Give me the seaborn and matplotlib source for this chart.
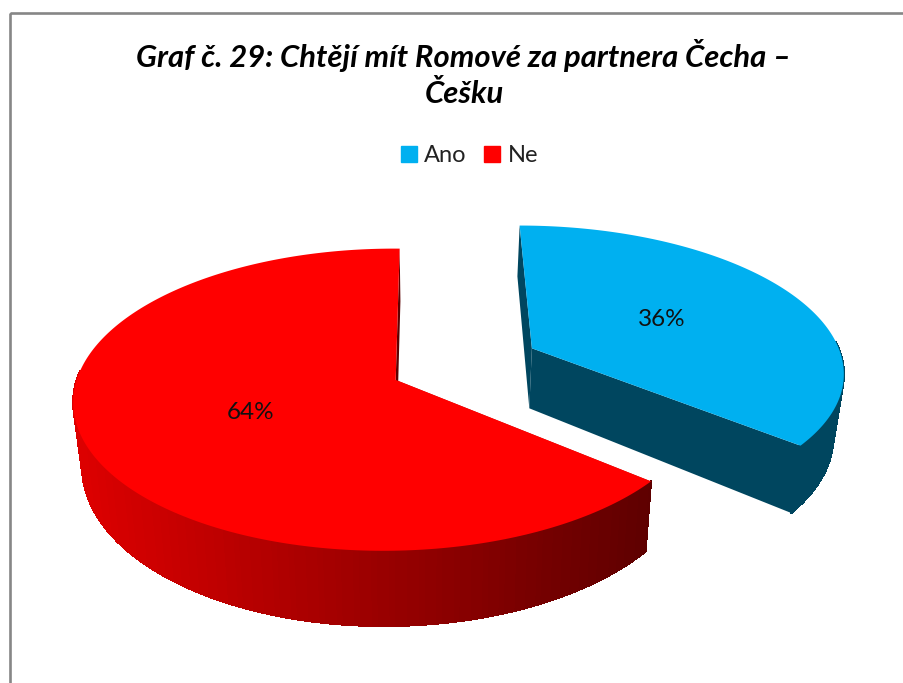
import numpy as np
import seaborn as sns
import matplotlib.pyplot as plt
from matplotlib.patches import Patch, Rectangle
from matplotlib.collections import PolyCollection

title = "Graf č. 29: Chtějí mít Romové za partnera Čecha –\nČešku"
categories = ["Ano", "Ne"]
shares = [36, 64]
labels = ["36%", "64%"]

sns.set_theme(style="white")
plt.rcParams["font.family"] = ["Lato", "DejaVu Sans"]

top_colors = ["#00B0F0", "#FF0000"]
side_blue = "#00465F"
rim_red = sns.blend_palette(["#DC0000", "#5C0000"], 64)

# projection of the tilted disc, one set per slice (exploded slices sit apart)
CX, CY, QY = 430, 375.5, 147
slice_view = [
    dict(r=315, k=0.14, m=0.0, ou=0.332, ov=0.19),
    dict(r=310, k=0.13, m=0.02, ou=-0.11, ov=-0.03),
]


def project(u, v, view):
    u = u + view["ou"]
    v = v + view["ov"]
    s = 1 / (1 + view["k"] * v + view["m"] * u)
    return CX + view["r"] * u * s, CY - QY * v * s


def drop(x, y):
    return CX + (x - CX) * 0.975, y + 60 + 0.075 * (y - 348)


fig, ax = plt.subplots(figsize=(9.04, 6.83), dpi=100)
ax.set_position([0, 0, 1, 1])
ax.set_xlim(0, 904)
ax.set_ylim(683, 0)
ax.axis("off")

ax.add_patch(Rectangle((10.5, 13), 1000, 1000, fill=False, ec="#868686", lw=1.9))

fractions = np.cumsum([0] + shares) / sum(shares)
for i, share in enumerate(shares):
    view = slice_view[i]
    a0, a1 = 2 * np.pi * fractions[i], 2 * np.pi * fractions[i + 1]
    th = np.linspace(a0, a1, 241)
    rx, ry = project(np.sin(th), np.cos(th), view)
    ax0, ay0 = project(0, 0, view)
    bx, by = drop(rx, ry)
    bax, bay = drop(ax0, ay0)

    # flat radial walls first, then the outer wall, then the top face
    walls = [
        [(ax0, ay0), (rx[0], ry[0]), (bx[0], by[0]), (bax, bay)],
        [(ax0, ay0), (rx[-1], ry[-1]), (bx[-1], by[-1]), (bax, bay)],
    ]
    wall_colors = [side_blue, side_blue] if i == 0 else ["#C80000", "#5C0000"]
    ax.add_collection(PolyCollection(walls, facecolors=wall_colors, edgecolors="none", zorder=2))

    quads = []
    quad_colors = []
    for j in range(len(th) - 1):
        # back part of the rim is hidden behind the top face
        if np.cos(th[j]) > 0.05:
            continue
        quads.append([(rx[j], ry[j]), (rx[j + 1], ry[j + 1]), (bx[j + 1], by[j + 1]), (bx[j], by[j])])
        if i == 0:
            quad_colors.append(side_blue)
        else:
            pos = np.clip((bx[j] - 85) / (652 - 85), 0, 1)
            quad_colors.append(rim_red[int(pos * 63)])
    ax.add_collection(PolyCollection(quads, facecolors=quad_colors, edgecolors=quad_colors, lw=0.8,
                                     antialiaseds=False, zorder=3))

    ax.fill(np.r_[ax0, rx], np.r_[ay0, ry], color=top_colors[i], lw=0, zorder=4)

    mid = (a0 + a1) / 2
    lx, ly = project(0.49 * np.sin(mid), 0.49 * np.cos(mid), view)
    ax.text(lx, ly, labels[i], ha="center", va="center", fontsize=17.5, color="#111111", zorder=5)

ax.text(464, 73.5, title, ha="center", va="center", fontsize=22.3, fontweight="bold", fontstyle="italic",
        color="black", linespacing=1.33)

handles = [Patch(color=c, label=n) for c, n in zip(top_colors, categories)]
ax.legend(handles=handles, loc="center", bbox_to_anchor=(469.5 / 904, 1 - 155.5 / 683), ncol=2, frameon=False,
          fontsize=17, handlelength=0.68, handleheight=0.68, handletextpad=0.3, columnspacing=0.75,
          labelcolor="#222222")

fig.savefig("out.png", dpi=100)
